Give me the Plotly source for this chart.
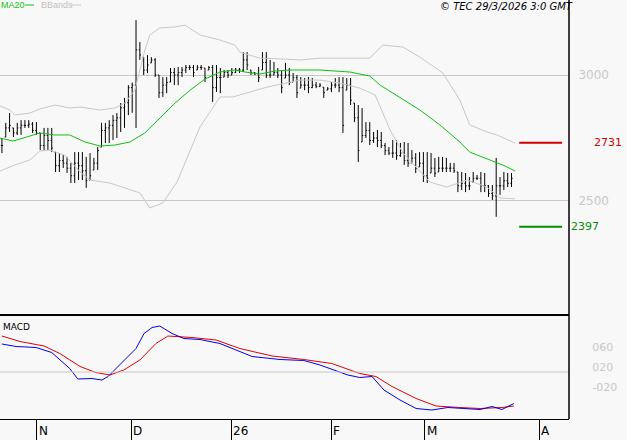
import plotly.graph_objects as go

# ---- OHLC bars (bar index, high / low / close) ----
highs = [2750,2810,2849,2790,2810,2821,2821,2821,2813,2813,2770,2790,2790,2790,2694,2690,2682,2675,2651,2694,
         2694,2694,2675,2690,2671,2714,2810,2810,2821,2841,2849,2889,2909,2960,2970,3218,
         3131,3071,3079,3071,3067,3000,2992,2992,3028,3028,3032,3032,3040,3040,3040,3040,3040,3028,3036,3040,
         3040,3028,3020,3020,3028,3028,
         3028,3091,3091,3020,3012,3032,3091,3091,3060,3052,3028,3020,3048,3028,3008,3000,2992,2988,2992,2988,
         2972,2968,2952,2952,2972,2988,2992,2992,2988,2988,2889,2881,2869,2813,2813,
         2774,2782,2774,2730,2714,2742,2742,2730,2734,2730,2702,2690,2694,2694,2694,2690,2671,2675,2675,2671,
         2651,2651,2615,2615,2611,2595,2615,2603,2615,2611,2563,2563,2671,2595,2615,2611,2611]
lows = [2690,2754,2774,2754,2762,2762,2790,2790,2770,2762,2702,2702,2702,2694,2615,2615,2631,2611,2571,2571,
        2583,2583,2552,2583,2623,2623,2714,2730,2730,2742,2750,2774,2790,2841,2850,2790,
        3060,3000,3008,3048,2992,2909,2913,2928,2972,2960,2960,2992,3008,3020,2992,3020,3020,2972,3020,2893,
        2933,2928,2992,2988,3000,3008,
        3008,3012,3020,3000,3000,2972,3020,2988,2988,3000,2988,2928,2988,2960,2972,2909,2948,2940,2928,2948,
        2948,2952,2909,2940,2932,2948,2932,2770,2940,2881,2813,2655,2734,2750,2722,
        2730,2714,2710,2682,2682,2671,2663,2675,2643,2635,2651,2611,2635,2575,2571,2611,2595,2615,2615,2615,
        2615,2611,2535,2543,2535,2543,2575,2583,2535,2535,2516,2504,2437,2524,2543,2555,2555]
closes = [2720,2790,2800,2770,2790,2800,2800,2805,2780,2770,2720,2760,2740,2710,2640,2660,2650,2630,2600,2650,
          2640,2620,2580,2600,2650,2700,2780,2790,2800,2820,2830,2870,2890,2950,2960,3100,
          3080,3020,3040,3060,3000,2930,2960,2970,3010,3000,3010,3020,3030,3030,3010,3030,3030,2990,3030,2950,
          2990,2990,3010,3000,3010,3020,
          3020,3060,3040,3010,3005,2990,3050,3000,3000,3010,3000,2950,3000,2970,2990,2930,2960,2960,2950,2960,
          2955,2960,2930,2945,2960,2960,2950,2800,2960,2900,2830,2700,2760,2780,2740,
          2750,2740,2720,2700,2690,2690,2680,2690,2660,2650,2670,2630,2650,2600,2590,2630,2610,2630,2630,2630,
          2630,2620,2560,2570,2560,2560,2590,2590,2560,2560,2530,2520,2560,2560,2580,2570,2590]

# ---- indicators (bar index, value) ----
ma_idx = [-0.5,2.9,6.5,9.9,13.8,17.7,21.7,25.6,29.5,33.4,37.3,41.2,45.2,49.1,53,56.9,60.8,63.4,67.3,71.3,
          75.2,79.1,83,90.8,96,98.7,103.9,109.1,114.3,119.5,122.1,127.4,131.3,133.9]
ma_val = [2750,2738,2754,2770,2762,2762,2734,2718,2722,2734,2770,2829,2889,2940,2984,3012,3020,3012,3004,3016,
          3020,3020,3020,3012,2996,2960,2909,2861,2802,2734,2694,2663,2639,2619]
up_idx = [-0.5,2.1,3.4,7.3,9.9,13.8,17.7,20.4,25.6,29.5,32.1,34.7,37.3,38.6,41.2,45.2,47.8,51.7,56.9,60.8,
          62.1,67.3,72.6,77.8,83,96,99.4,104.7,109.1,115.1,119.5,122.1,126.6,129.2,133.9]
up_val = [2877,2861,2841,2849,2865,2881,2869,2873,2861,2869,2889,2940,3099,3159,3187,3191,3198,3159,3139,3119,
          3091,3067,3064,3060,3067,3067,3119,3111,3071,3008,2901,2802,2774,2762,2730]
lo_idx = [-0.5,3.4,7.3,9.9,12.5,16.4,20.4,23,28.2,36,38.6,42,45.7,51.7,56.9,60.3,69.2,77.8,83,88.2,
          93.4,97.4,101.3,104.7,111.7,116.1,121.4,126.6,130,133.9]
lo_val = [2619,2643,2663,2698,2702,2682,2615,2583,2571,2532,2472,2492,2575,2794,2913,2913,2952,2980,2980,2968,
          2948,2921,2782,2690,2575,2555,2583,2555,2512,2508]
macd_idx = [0,3.7,8.9,13,17.7,19.8,23.5,26.1,27.7,30.8,35,37.1,39.2,41.2,44.4,47.5,51.7,56.9,62.1,65.3,
            72.6,78.8,83,90.3,93.4,96.6,99.7,103.9,108.1,112.2,116.4,122.7,124.8,127.9,130.5,133.6]
macd_val = [0.66,0.61,0.59,0.49,0.17,-0.04,-0.03,-0.06,0.01,0.24,0.57,0.87,0.99,1.02,0.87,0.77,0.75,0.67,0.51,0.41,
            0.35,0.33,0.24,0.04,-0.01,0.01,-0.26,-0.46,-0.63,-0.66,-0.61,-0.63,-0.65,-0.59,-0.65,-0.53]
sig_idx = [0,4.7,11,15.1,20.4,24.5,28.2,31.8,36,40.2,43.3,49.6,55.9,62.1,70.5,78.8,86.1,93.4,97.6,101.8,
           108.1,113.3,119.5,124.8,130.5,133.6]
sig_val = [0.82,0.71,0.62,0.47,0.21,0.09,0.04,0.14,0.34,0.67,0.82,0.79,0.74,0.57,0.42,0.35,0.27,0.07,0.01,-0.19,
           -0.43,-0.58,-0.61,-0.63,-0.61,-0.58]

month_pos = [9.1, 33.7, 59.8, 85.9, 110.4, 140.2]
month_lbl = ["N", "D", "26", "F", "M", "A"]
price_ticks = [2500, 3000]
macd_ticks = [0.6, 0.2, -0.2]
macd_tick_lbl = ["060", "020", "-020"]
resistance = 2731
support = 2397

n = min(len(highs), len(lows), len(closes))
idx = list(range(n))
opens = []
for i in range(n):
    prev = closes[i - 1] if i > 0 else closes[0]
    opens.append(min(max(prev, lows[i]), highs[i]))

BG = "#f8f8f8"
GRID = "#c8c8c8"
XR = [-0.5, 148]
fig = go.Figure()
fig.add_trace(go.Scatter(x=up_idx, y=up_val, mode="lines", line=dict(color="#c8c8c8", width=1), xaxis="x", yaxis="y"))
fig.add_trace(go.Scatter(x=lo_idx, y=lo_val, mode="lines", line=dict(color="#c8c8c8", width=1), xaxis="x", yaxis="y"))
fig.add_trace(go.Scatter(x=ma_idx, y=ma_val, mode="lines", line=dict(color="#10c010", width=1), xaxis="x", yaxis="y"))
fig.add_trace(go.Ohlc(x=idx, open=opens, high=highs[:n], low=lows[:n], close=closes[:n],
                      increasing=dict(line=dict(color="black", width=1)),
                      decreasing=dict(line=dict(color="black", width=1)),
                      tickwidth=0.3, xaxis="x", yaxis="y"))
fig.add_trace(go.Scatter(x=sig_idx, y=sig_val, mode="lines", line=dict(color="#e00000", width=1), xaxis="x2", yaxis="y2"))
fig.add_trace(go.Scatter(x=macd_idx, y=macd_val, mode="lines", line=dict(color="#0000e0", width=1), xaxis="x2", yaxis="y2"))

XD = [0, 569 / 627]
fig.update_layout(
    width=627, height=440, margin=dict(l=0, r=0, t=0, b=0, autoexpand=False),
    paper_bgcolor=BG, plot_bgcolor=BG, showlegend=False,
    font=dict(family="DejaVu Sans", size=11, color="black"),
    xaxis=dict(domain=XD, range=XR, showgrid=False, showticklabels=False, zeroline=False,
               rangeslider=dict(visible=False), anchor="y"),
    yaxis=dict(domain=[1 - 315 / 440, 1], range=[2047, 3298], side="right", tickvals=price_ticks,
               ticktext=[str(v) for v in price_ticks], tickfont=dict(color=GRID, size=12),
               showgrid=True, gridcolor=GRID, zeroline=False, ticks="outside", ticklen=6, tickcolor=BG),
    xaxis2=dict(domain=XD, range=XR, tickvals=month_pos, ticks="outside", showticklabels=False,
                ticklen=20, tickcolor="black", showgrid=False,
                zeroline=False, anchor="y2", showline=True, linecolor="black"),
    yaxis2=dict(domain=[1 - 419 / 440, 1 - 316 / 440], range=[-0.84, 1.22], side="right",
                tickvals=macd_ticks, ticktext=macd_tick_lbl, tickfont=dict(color=GRID, size=11),
                showgrid=False, zeroline=False, ticks="outside", ticklen=20, tickcolor=BG, anchor="x2"),
)
shapes = [
    dict(type="line", xref="x2", yref="y2", x0=XR[0], x1=XR[1], y0=0.1, y1=0.1, line=dict(color=GRID, width=1)),
    dict(type="line", xref="paper", yref="paper", x0=0, x1=XD[1], y0=1 - 315 / 440, y1=1 - 315 / 440,
         line=dict(color="black", width=2)),
    dict(type="line", xref="paper", yref="paper", x0=XD[1], x1=XD[1], y0=1 - 419 / 440, y1=1,
         line=dict(color="black", width=1.5)),
    dict(type="line", xref="x", yref="y", x0=135, x1=146.2, y0=resistance, y1=resistance,
         line=dict(color="#d00000", width=2)),
    dict(type="line", xref="x", yref="y", x0=135, x1=146.2, y0=support, y1=support,
         line=dict(color="#009000", width=2)),
    dict(type="line", xref="paper", yref="paper", x0=25 / 627, x1=34 / 627, y0=1 - 5 / 440, y1=1 - 5 / 440,
         line=dict(color="#10c010", width=1)),
    dict(type="line", xref="paper", yref="paper", x0=71 / 627, x1=81 / 627, y0=1 - 5 / 440, y1=1 - 5 / 440,
         line=dict(color="#c8c8c8", width=1)),
]
fig.update_layout(shapes=shapes)
ann = [
    dict(text="MA20", x=-1 / 627, y=1 + 2 / 440, xref="paper", yref="paper", xanchor="left", yanchor="top",
         showarrow=False, font=dict(color="#10c010", size=9, family="Liberation Sans")),
    dict(text="BBands", x=39 / 627, y=1 + 2 / 440, xref="paper", yref="paper", xanchor="left", yanchor="top",
         showarrow=False, font=dict(color="#c0c0c0", size=9, family="Liberation Sans")),
    dict(text="<i>© TEC 29/3/2026 3:0 GMT</i>", x=575 / 627, y=1 + 1 / 440, xref="paper", yref="paper",
         xanchor="right", yanchor="top", showarrow=False, font=dict(size=10)),
    dict(text="MACD", x=1 / 627, y=1 - 320 / 440, xref="paper", yref="paper", xanchor="left", yanchor="top",
         showarrow=False, font=dict(size=9)),
    dict(text=str(resistance), x=592 / 627, y=resistance, xref="paper", yref="y", xanchor="left",
         showarrow=False, font=dict(color="#d00000", size=11)),
    dict(text=str(support), x=569 / 627, y=support, xref="paper", yref="y", xanchor="left",
         showarrow=False, font=dict(color="#009000", size=11)),
]
for p, lbl in zip(month_pos, month_lbl):
    ann.append(dict(text=lbl, x=p, y=0, xref="x2", yref="paper", xanchor="left", yanchor="bottom",
                    showarrow=False, font=dict(size=12)))
fig.update_layout(annotations=ann)
fig.write_html("out.html", config={"displayModeBar": False})

# remove the browser's default page margin so the figure fills the 627x440 window exactly
with open("out.html", encoding="utf-8") as f:
    html = f.read()
html = html.replace("<head>", "<head><style>html,body{margin:0;padding:0;overflow:hidden;}</style>", 1)
with open("out.html", "w", encoding="utf-8") as f:
    f.write(html)
